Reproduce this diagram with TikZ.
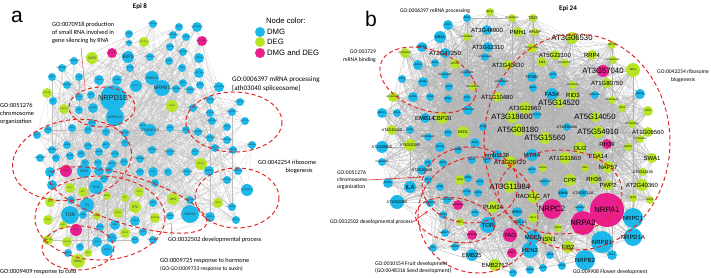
\documentclass[tikz,border=0pt]{standalone}
\usepackage{fontspec}
\setmainfont{Liberation Sans}
\newfontfamily\annfont{Carlito}
\usetikzlibrary{arrows.meta}

\definecolor{dmgcol}{RGB}{28,184,234}
\definecolor{degcol}{RGB}{184,228,40}
\definecolor{bothcol}{RGB}{234,30,140}
\definecolor{gored}{RGB}{226,38,38}

\pgfdeclarelayer{edges}
\pgfsetlayers{edges,main}

\tikzset{
  gene/.style={circle, inner sep=0pt, draw=none},
  dmg/.style={fill=dmgcol},
  deg/.style={fill=degcol},
  both/.style={fill=bothcol},
  lab s/.style={font=\fontsize{3}{3}\selectfont, text=black!80, inner sep=0pt},
  lab m/.style={font=\fontsize{4.8}{5}\selectfont, text=black!80, inner sep=0pt},
  lab l/.style={font=\fontsize{7}{7}\selectfont, text=black!85, inner sep=0pt},
  lab x/.style={font=\fontsize{10.5}{11}\selectfont, text=black!85, inner sep=0pt},
  lab S/.style={font=\fontsize{3.5}{4}\selectfont, text=black, inner sep=0pt},
  lab M/.style={font=\fontsize{5.5}{6}\selectfont, text=black, inner sep=0pt},
  lab L/.style={font=\fontsize{8.5}{9}\selectfont, text=black, inner sep=0pt},
  lab X/.style={font=\fontsize{11}{12}\selectfont, text=black, inner sep=0pt},
  edge/.style={draw=gray!50, line width=0.12pt},
  edgeb/.style={draw=gray!60, line width=0.12pt},
  goring/.style={draw=gored, line width=1.4pt, dash pattern=on 6pt off 4pt},
  golink/.style={draw=gored, line width=0.5pt},
  goarrow/.style={draw=gored, line width=0.8pt, -{Stealth[length=5pt]}},
  annot/.style={font=\annfont\fontsize{9}{11.5}\selectfont, inner sep=0pt, align=left},
  annotb/.style={font=\annfont\fontsize{8}{10.5}\selectfont, inner sep=0pt, align=left},
  legtext/.style={font=\fontsize{11}{12}\selectfont, inner sep=0pt},
}

\begin{document}
\begin{tikzpicture}[x=0.5mm, y=-0.5mm]
\useasboundingbox (0,0) rectangle (711,278);

% Panel a nodes
\foreach \gx/\gy/\gr/\gc/\gn/\gf [count=\i] in {
153/24/4/dmg/F2P06.14/s, 179/27/4/dmg/RCN1/s, 197/27/5/dmg/AT1G44440/s,
129/34/4/dmg/STOP1/s, 173/35/4/dmg/AT1G62520/s, 186/37/4/dmg/CHR19/s,
129/43/3/dmg/NRPE3/s, 144/42/5/deg/CYCT1;5/s, 202/41/5/both/AT5G63870/s,
170/47/4/dmg/RAPTR/s, 183/52/4/dmg/AT4G20520/s, 112/53/5/both/RDM3/s,
92/58/6/deg/ZAT6/m, 128/57/6/dmg/BIP1/l, 150/57/4/dmg/AT1G31700/s,
169/61/4/dmg/NRE1/s, 199/58/5/dmg/DRG1/s, 74/61/4/dmg/AT3G62960/s,
62/68/4/dmg/AT5G06421/s, 130/68/4/dmg/RPT1A/s, 182/68/4/dmg/YB10/s,
199/73/5/dmg/SPT5A/s, 52/77/4/dmg/PAB8/s, 79/77/4/dmg/ISP1/s,
99/80/5/dmg/SHO2/s, 117/80/5/dmg/CHR8/s, 152/78/7/dmg/PGB12/m,
183/83/4/dmg/NPL3/s, 200/85/4/dmg/RPC5/s, 219/87/5/dmg/AT2G40430/s,
67/85/4/dmg/AT3G06860/s, 136/86/6/dmg/MRPC1/s, 162/88/8/dmg/NRPB7/l,
176/89/4/dmg/AT1G08910/s, 190/90/4/dmg/AT4G13120/s, 47/93/5/deg/CAF1b/s,
79/97/4/dmg/SCL4/s, 91/95/4/dmg/ATT1/s, 113/98/13/dmg/NRPD1B/x,
53/101/4/dmg/ILA/s, 64/109/5/deg/CAF1a/s, 79/110/4/dmg/SE/s,
93/108/5/dmg/NRPB2/s, 115/117/9/dmg/NRPD1A/m, 92/123/4/dmg/THO2/s,
172/106/6/deg/HMN1/s, 193/108/4/dmg/AT5G38700/s, 210/100/4/dmg/AT1G67650/s,
240/102/4/dmg/AT1G63770/s, 210/113/4/dmg/CPSF30/s, 232/112/4/dmg/AT1G26370/s,
245/121/4/dmg/CPSF73-I/s, 212/121/4/dmg/AT3G10250/s, 227/127/4/dmg/SRSF2/s,
143/126/4/dmg/ALNT1/s, 150/130/6/dmg/AT1G26710/m, 170/128/4/dmg/SPT4/s,
186/130/4/dmg/RBL1/s, 198/132/4/dmg/AT3G27890/s, 210/138/4/dmg/AT1G09760/s,
227/140/4/dmg/AT5G40490/s, 252/145/4/dmg/EMB1587/s, 215/148/4/dmg/AT4G21710/s,
233/150/4/dmg/EMB1717/s, 48/130/4/dmg/SWI3C/s, 72/128/4/dmg/SWN/s,
88/130/4/dmg/HAC2/s, 106/132/4/dmg/FAS2/s, 125/133/4/dmg/AT4G19120/s,
37/135/4/dmg/HAC1/s, 52/150/4/dmg/AT3G14120/s, 67/145/4/dmg/HDA6/s,
88/146/4/dmg/SUVH4/s, 106/145/4/dmg/MET1/s, 125/143/4/dmg/FAS1/s,
40/158/4/dmg/AT1G01690/s, 56/158/4/dmg/MCK/s, 70/156/4/dmg/NRDB1/s,
81/154/4/dmg/HAC5/s, 99/152/4/dmg/HDA18/s, 115/154/4/dmg/HDA19/s,
85/163/4/dmg/CLF/s, 98/163/4/dmg/CHC1/s, 112/164/4/dmg/NRPC12/s,
124/162/4/dmg/SPT16/s, 140/159/4/dmg/AT4G39960/s, 152/150/4/dmg/AT1G13780/s,
170/152/4/dmg/AT5G27970/s, 195/152/4/dmg/SEN1/s, 50/172/5/dmg/HD1/s,
66/171/6/both/ASE1/s, 84/171/7/dmg/BRM/m, 99/171/5/dmg/CTB1/s,
109/170/4/dmg/ATRX/s, 104/179/4/dmg/EMB2771/s, 140/172/4/dmg/HASTY/s,
153/172/5/dmg/NU4/s, 168/172/4/dmg/SCT/s, 187/172/4/dmg/T23F11.18/s,
201/164/6/deg/NRPD2/s, 209/171/5/dmg/NRPE1/s, 238/171/4/dmg/EMB1750/s,
227/180/4/dmg/AT1G52670/s, 247/190/6/dmg/AT1G06630/s, 52/185/5/dmg/REF6/s,
70/188/5/deg/BT1/s, 83/192/5/deg/BT2/s, 96/187/7/dmg/SYD/m,
107/196/4/deg/MKK6/s, 125/198/4/deg/ZTL/s, 139/192/5/deg/TOC1/s,
155/183/4/dmg/SCD1/s, 173/199/6/deg/AP2/m, 190/200/4/dmg/AT3G12064/s,
190/214/9/dmg/NRPA2/m, 218/203/5/deg/SPL3/s, 232/207/4/dmg/emb2118/s,
210/217/5/dmg/MTB1/s, 236/220/4/dmg/NRPD4/s, 50/202/5/deg/BT4/s,
71/200/4/dmg/PKL/s, 87/205/7/dmg/TS/m, 135/207/6/deg/ST2/m,
153/203/4/dmg/DWA2/s, 48/220/5/deg/HYH/s, 70/215/9/dmg/TOR/l,
83/215/4/dmg/LDB1/s, 97/216/4/deg/HDA15/s, 118/213/5/deg/BRH1/s,
135/221/5/dmg/SNF1/s, 155/218/5/deg/RACK1B/s, 170/216/4/dmg/NRA1/s,
63/225/4/deg/LHP1/s, 76/230/6/both/OCA1/s, 100/227/4/dmg/DWA1/s,
115/225/5/dmg/LBA1/s, 125/233/5/deg/MYC2/s, 143/232/4/dmg/THO1/s,
153/240/4/dmg/AT3G28330/s, 112/238/5/dmg/NPR1/s, 135/240/4/dmg/ENO2/s,
48/240/5/deg/WRKY33/s, 67/242/5/deg/RHL41/s, 80/247/4/dmg/VIN3/s,
97/242/5/dmg/LOS1/s, 88/253/4/deg/FLC/s, 107/250/6/dmg/MPK6/s,
68/253/4/dmg/MBD9/s, 78/261/7/deg/S6K2/m}
{
  \node[gene, \gc, minimum size=\gr mm, label={[lab \gf]center:\gn}] (a\i) at (\gx,\gy) {};
  \xdef\na{\i}
}

% Panel b nodes
\foreach \gx/\gy/\gr/\gc/\gn/\gf [count=\i] in {
467/18/4/dmg/RFC1/S, 490/12/4/deg/NRPE7/S, 512/18/4/deg/AT4G38130/S,
533/18/4/deg/TRZ3/M, 448/25/5/dmg/ATM/S, 487/30/5/dmg/AT3G46900/L,
518/32/5/deg/PMH1/L, 535/32/4/deg/RPL5P/M, 440/37/6/dmg/UBA1/M,
467/37/4/deg/AT3G16180/S, 422/47/5/dmg/EIF5C/M, 405/53/5/deg/AT3G16760/S,
445/53/5/dmg/AT3G47250/L, 488/47/5/dmg/AT3G62310/L, 532/48/5/deg/AT5G15802/S,
485/57/4/dmg/AT3G28680/S, 435/63/4/dmg/FAS8/S, 455/64/5/deg/PRP39/S,
418/65/5/dmg/EIF5A/S, 508/65/5/deg/AT2G40430/L, 542/62/5/deg/La1/M,
445/75/4/dmg/AT3G61240/S, 467/73/4/dmg/AT5G10370/S, 402/79/4/dmg/DTX1/S,
423/82/5/dmg/eIF4B1/S, 502/82/4/dmg/AT4G31020/S, 532/77/5/dmg/TIF3B1/M,
533/88/4/dmg/SDCH/S, 553/75/4/dmg/ADC2/S, 449/87/4/dmg/FAS1/S,
473/87/4/deg/AT1G26370/S, 393/97/5/deg/AT4G20988/S, 413/97/5/dmg/EIF4G/S,
430/97/4/dmg/THO2/S, 448/99/4/dmg/SRN4a/S, 467/98/4/dmg/SC2p/S,
497/97/5/deg/AT1G10480/L, 552/94/6/dmg/FAS4/L, 572/38/6/deg/AT3G06530/X,
612/45/4/deg/NRPD7/S, 555/55/5/deg/AT5G22100/L, 592/55/5/deg/RRP4/L,
613/60/4/deg/AT5G22440/S, 633/70/7/deg/BRX2/S, 565/63/4/deg/AT5G67510/S,
603/71/6/both/AT3G57040/X, 607/83/5/deg/AT1G80750/L, 573/95/5/deg/RID3/L,
573/85/4/deg/AT2G22450/S, 595/95/4/dmg/EMB2706/S, 640/94/5/dmg/RRP41/S,
612/100/4/deg/AT4G26670/S, 622/108/4/deg/PDA1/S, 648/111/5/deg/ZAT8/S,
525/108/6/deg/AT3G22660/L, 559/103/5/deg/AT5G14520/X, 537/115/4/dmg/RPL16A/S,
595/117/5/deg/AT5G14050/X, 512/117/6/deg/AT3G18600/X, 632/124/4/deg/AT3G02820/S,
567/127/4/dmg/AT1G54440/M, 598/132/6/deg/AT5G54910/X, 648/132/5/deg/AT1G06560/L,
518/130/6/deg/AT5G08180/X, 545/138/6/deg/AT5G15560/X, 640/139/4/deg/AT4G26600/S,
580/148/6/deg/OLI2/L, 607/144/5/both/RH39/L, 628/147/4/deg/PGRP1/S,
652/158/5/deg/SWA1/L, 565/158/6/deg/AT1G31660/L, 598/156/5/deg/EDA14/L,
543/168/4/deg/EPIG2/S, 585/168/4/deg/RID2/S, 608/167/6/deg/NAP57/L,
643/172/4/deg/AT5G41190/M, 570/180/6/deg/CPR/L, 594/179/5/deg/RH36/L,
545/182/4/dmg/EMB2770/S, 608/185/5/deg/PWP2/L, 642/185/6/deg/AT2G40360/L,
563/193/5/dmg/ABH1/M, 583/193/4/dmg/AT1G67120/M, 633/198/4/deg/NFD1/S,
650/200/4/deg/RRP5/S, 533/197/6/deg/RACK1C\_AT/L, 580/208/4/dmg/emb1507/S,
607/210/17/both/NRPA1/X, 552/209/10/both/NRPC2/X, 633/218/10/dmg/NRPC1/L,
583/223/12/both/NRPA2/X, 558/228/4/deg/NOC2/S, 533/237/7/dmg/MEE5/L,
548/239/5/deg/NSN1/L, 633/237/9/dmg/NRPD1A/L, 602/242/11/dmg/NRPB1/L,
568/247/6/deg/FIB2/L, 550/255/4/dmg/HAP2/S, 612/255/5/dmg/OCL1/S,
585/260/10/dmg/NRPB2/L, 562/266/4/dmg/NOF1/S, 543/268/4/dmg/AGO1/S,
382/113/5/dmg/RAP2.4/S, 397/113/4/dmg/RPL9/S, 425/118/5/dmg/EMB14/L,
442/118/6/deg/CBP20/L, 468/110/5/dmg/AT3G27900/S, 392/130/5/deg/AT4G10450/M,
410/130/4/dmg/FUG1/S, 428/137/4/dmg/AT4G18320/S, 448/133/4/dmg/EOAI/S,
463/132/6/deg/SKD1/M, 483/127/4/dmg/ACS1/S, 382/147/6/dmg/AT1G08620/M,
410/145/6/deg/AT4G02390/M, 440/147/5/dmg/SUVH5/S, 458/150/4/dmg/INO80/S,
475/143/5/dmg/MOM/S, 497/155/5/dmg/emb1138/L, 382/162/4/dmg/AT3G03080/S,
428/163/4/dmg/HD1/S, 443/163/4/dmg/HAF01/S, 472/160/4/dmg/HAC2/S,
487/160/4/dmg/HAC1/S, 510/162/6/deg/AT3G09720/L, 532/155/6/dmg/MTR4/L,
532/170/4/dmg/HASTY/S, 422/170/5/dmg/AT2G45390/M, 388/183/5/dmg/PUB12/S,
410/187/6/dmg/ILA/L, 428/180/4/dmg/SNL1/S, 440/187/4/dmg/GTB1/S,
460/180/5/deg/FDA3/S, 468/178/4/dmg/XPB1/S, 480/182/4/dmg/HAC4/S,
510/187/6/deg/AT3G11984/X, 397/202/7/dmg/AT1G63080/M, 430/203/4/dmg/EMB2016/S,
447/200/4/dmg/AT1G75990/S, 458/205/5/both/EMB2656/S, 467/192/4/dmg/SPT16/S,
478/193/4/dmg/NRPM/S, 493/207/6/deg/PUM24/L, 517/212/5/dmg/XRN2/M,
533/218/5/deg/HUL1/S, 443/215/4/dmg/CHR23/S, 475/213/4/dmg/eIFRA/S,
520/222/4/dmg/NUC-L1/M, 460/222/4/deg/BT1/S, 488/225/8/dmg/TOR/L,
445/233/4/dmg/EMB2773/S, 472/235/5/both/emb2034/S, 510/235/7/both/YAO/L,
455/247/4/dmg/EMB3011/S, 433/248/4/dmg/TPL/S, 472/255/6/dmg/EMB25/L,
512/253/5/both/ABCI7/S, 530/250/8/dmg/HEN2/L, 495/265/6/deg/EMB2762/L,
513/273/4/dmg/SYD/S, 530/270/4/dmg/ASHH1/S}
{
  \node[gene, \gc, minimum size=\gr mm, label={[lab \gf]center:\gn}] (b\i) at (\gx,\gy) {};
  \xdef\nb{\i}
}

% Interactions (behind the nodes)
\pgfmathsetseed{24}
\begin{pgfonlayer}{edges}
\foreach \i in {1,...,\na}{
  \foreach \k in {1,...,7}{
    \pgfmathrandominteger{\j}{1}{\na}
    \draw[edge] (a\i.center) -- (a\j.center);
  }
}
\foreach \i in {1,...,\nb}{
  \foreach \k in {1,...,18}{
    \pgfmathrandominteger{\j}{1}{\nb}
    \draw[edgeb] (b\i.center) -- (b\j.center);
  }
}
\end{pgfonlayer}

% GO term rings, panel a
\draw[goring] (102,107) ellipse [x radius=33, y radius=20];
\draw[goring, shift={(72,160)}, rotate=10] (0,0) ellipse [x radius=60, y radius=40];
\draw[goring] (234,122) ellipse [x radius=48, y radius=30];
\draw[goring] (237,198) ellipse [x radius=42, y radius=30];
\draw[goring, shift={(128,200)}, rotate=-17] (0,0) ellipse [x radius=82, y radius=24];
\draw[goring] (100,218) ellipse [x radius=65, y radius=42];
\draw[goring] (78,248) ellipse [x radius=36, y radius=22];

% GO term rings, panel b
\draw[goring, shift={(428,80)}, rotate=-20] (0,0) ellipse [x radius=50, y radius=30];
\draw[goring] (577,142) ellipse [x radius=93, y radius=108];
\draw[goring] (470,185) ellipse [x radius=48, y radius=38];
\draw[goring, shift={(455,220)}, rotate=-10] (0,0) ellipse [x radius=40, y radius=22];
\draw[goring] (478,215) ellipse [x radius=60, y radius=58];
\draw[goring] (560,192) ellipse [x radius=62, y radius=42];

% Titles
\node[font=\fontsize{30}{30}\selectfont] (tagA) at (17,17) {a};
\node[font=\fontsize{30}{30}\selectfont] (tagB) at (371,19) {b};
\node[font=\annfont\bfseries\fontsize{10}{10}\selectfont] (epiA) at (140,7) {Epi 8};
\node[font=\annfont\bfseries\fontsize{10}{10}\selectfont] (epiB) at (568,9) {Epi 24};

% Legend
\node[legtext, anchor=west] (legHead) at (266,21) {Node color:};
\node[gene, dmg, minimum size=5mm] (legDMG) at (260,32) {};
\node[gene, deg, minimum size=5mm] (legDEG) at (260,42) {};
\node[gene, both, minimum size=5mm] (legBoth) at (260,53) {};
\node[legtext, anchor=west] (legDMGt) at (267,32) {DMG};
\node[legtext, anchor=west] (legDEGt) at (267,42) {DEG};
\node[legtext, anchor=west] (legBotht) at (267,53) {DMG and DEG};

% Annotations, panel a
\node[annot, anchor=north west] (goSmallRNA) at (52,22) {GO:0070918 production\\of small RNA involved in\\gene silencing by RNA};
\node[annot, anchor=north west, font=\annfont\fontsize{10}{11.5}\selectfont] (goSpliceA) at (232,77) {GO:0006397 mRNA processing\\{[}ath03040 spliceosome{]}};
\node[annot, anchor=north west] (goChromA) at (0,103) {GO:0051276\\chromosome\\organization};
\node[annot, anchor=north west, align=center] (goRiboA) at (258,160) {GO:0042254 ribosome\\\hspace*{12mm}biogenesis};
\node[annot, anchor=west] (goDevA) at (168,240) {GO:0032502 developmental process};
\node[annot, anchor=north west] (goHormA) at (160,258) {GO:0009725 response to hormone\\{\fontsize{8}{9}\selectfont (GO:GO:0009733 response to auxin)}};
\node[annot, anchor=west] (goColdA) at (0,272) {GO:0009409 response to cold};

\coordinate (rnaFoot) at (81,48);
\coordinate (rnaTip) at (85,88);
\draw[golink] (rnaFoot) -- (rnaTip);
\coordinate (devFootA) at (172,236);
\coordinate (devTipA) at (171,223);
\draw[golink] (devFootA) -- (devTipA);

% Annotations, panel b
\node[annotb, anchor=center] (goSpliceB) at (435,11) {GO:0006397 mRNA processing};
\node[annotb, anchor=east, align=right] (goBindB) at (376,56) {GO:003729\\mRNA binding};
\node[annotb, anchor=east, align=center] (goRiboB) at (709,76) {GO:0042254 ribosome\\biogenesis};
\node[annotb, anchor=west] (goChromB) at (337,180) {GO:0051276\\chromosome\\organization};
\node[annotb, anchor=east] (goDevB) at (413,222) {GO:0032502 developmental process};
\node[annotb, anchor=north west] (goSeedB) at (375,261) {GO:0010154 Fruit development\\(GO:0048316 Seed development)};
\node[annotb, anchor=west] (goFlowerB) at (573,272) {GO:009908 Flower development};

\coordinate (chromTipB) at (422,177);
\coordinate (devTipB) at (428,211);
\draw[goarrow] (goChromB.east) -- (chromTipB);
\draw[goarrow] (goDevB.east) -- (devTipB);

\end{tikzpicture}
\end{document}
